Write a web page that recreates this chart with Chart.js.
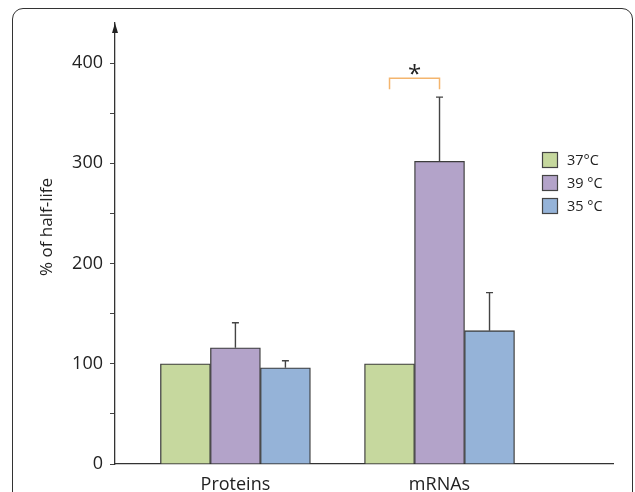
<!DOCTYPE html>
<html>
<head>
<meta charset="utf-8">
<script src="https://cdn.jsdelivr.net/npm/chart.js@4.4.1/dist/chart.umd.min.js"></script>
<style>
  html, body { margin: 0; padding: 0; background: #fff; overflow: hidden; }
  #frame {
    position: absolute; left: 12px; top: 8px; width: 621px; height: 600px;
    box-sizing: border-box; border: 1.5px solid #333; border-radius: 11px;
  }
  #wrap { position: absolute; left: 0; top: 0; width: 635px; height: 492px; }
</style>
</head>
<body>
<div id="frame"></div>
<div id="wrap"><canvas id="chart" width="635" height="492"></canvas></div>
<script>
// data
var categories = ['Proteins', 'mRNAs'];
var seriesLabels = ['37°C', '39 °C', '35 °C'];
var values37 = [100, 100];
var values39 = [116, 302];
var values35 = [96, 133];
var err37 = [0, 0];
var err39 = [25, 64];
var err35 = [7, 38];
var yTicks = [0, 100, 200, 300, 400];
var colors = ['#c6d89e', '#b3a3c9', '#95b3d8'];

var FONT = "'Open Sans', 'DejaVu Sans', sans-serif";
var INK = '#333';

function pts(vals) {
  return vals.map(function (v, i) { return { x: i + 1, y: v }; });
}

var errors = [err37, err39, err35];

// error bars, upper half only
var errorBars = {
  id: 'errorBars',
  afterDatasetsDraw: function (chart) {
    var ctx = chart.ctx;
    var ys = chart.scales.y;
    ctx.save();
    ctx.strokeStyle = '#444';
    ctx.lineWidth = 1.4;
    chart.data.datasets.forEach(function (ds, di) {
      var meta = chart.getDatasetMeta(di);
      meta.data.forEach(function (bar, i) {
        var e = errors[di][i];
        if (!e) return;
        var top = ys.getPixelForValue(ds.data[i].y + e);
        ctx.beginPath();
        ctx.moveTo(bar.x, bar.y);
        ctx.lineTo(bar.x, top);
        ctx.moveTo(bar.x - 3.5, top);
        ctx.lineTo(bar.x + 3.5, top);
        ctx.stroke();
      });
    });
    ctx.restore();
  }
};

// axis arrow, y title, legend, significance bracket
var extras = {
  id: 'extras',
  afterDraw: function (chart) {
    var ctx = chart.ctx;
    var a = chart.chartArea;
    var ys = chart.scales.y;
    ctx.save();

    ctx.fillStyle = '#222';
    ctx.beginPath();
    ctx.moveTo(a.left, a.top);
    ctx.lineTo(a.left - 3, a.top + 10);
    ctx.lineTo(a.left + 3, a.top + 10);
    ctx.closePath();
    ctx.fill();

    ctx.save();
    ctx.translate(47, 227);
    ctx.rotate(-Math.PI / 2);
    ctx.font = '17px ' + FONT;
    ctx.fillStyle = '#222';
    ctx.textAlign = 'center';
    ctx.textBaseline = 'middle';
    ctx.fillText('% of half-life', 0, 0);
    ctx.restore();

    ctx.font = '14.5px ' + FONT;
    ctx.textAlign = 'left';
    ctx.textBaseline = 'middle';
    chart.data.datasets.forEach(function (ds, i) {
      var cy = 160 + i * 23;
      ctx.fillStyle = ds.backgroundColor;
      ctx.fillRect(542.5, cy - 7.5, 15, 15);
      ctx.strokeStyle = '#444';
      ctx.lineWidth = 1.2;
      ctx.strokeRect(542.5, cy - 7.5, 15, 15);
      ctx.fillStyle = '#222';
      ctx.fillText(ds.label, 567, cy + 1);
    });

    var x1 = chart.getDatasetMeta(0).data[1].x;
    var x2 = chart.getDatasetMeta(1).data[1].x;
    var yTop = ys.getPixelForValue(385);
    var yLeg = ys.getPixelForValue(374);
    ctx.strokeStyle = '#f4b56e';
    ctx.lineWidth = 1.5;
    ctx.beginPath();
    ctx.moveTo(x1, yLeg);
    ctx.lineTo(x1, yTop);
    ctx.lineTo(x2, yTop);
    ctx.lineTo(x2, yLeg);
    ctx.stroke();
    ctx.fillStyle = '#222';
    ctx.font = '24px ' + FONT;
    ctx.textAlign = 'center';
    ctx.textBaseline = 'middle';
    ctx.fillText('*', (x1 + x2) / 2, yTop - 3);

    ctx.restore();
  }
};

var datasetValues = [values37, values39, values35];

new Chart(document.getElementById('chart'), {
  type: 'bar',
  data: {
    datasets: datasetValues.map(function (vals, i) {
      return {
        label: seriesLabels[i],
        data: pts(vals),
        backgroundColor: colors[i],
        borderColor: '#3d3d3d',
        borderWidth: 1.3,
        barThickness: 50
      };
    })
  },
  options: {
    responsive: false,
    animation: false,
    layout: { padding: { top: 23, right: 22, left: 0, bottom: 0 } },
    plugins: { legend: { display: false }, tooltip: { enabled: false } },
    scales: {
      x: {
        type: 'linear',
        offset: false,
        min: 0.41,
        max: 2.85,
        grid: { display: false, offset: false },
        border: { display: true, color: INK, width: 1.3 },
        afterBuildTicks: function (s) {
          s.ticks = categories.map(function (c, i) { return { value: i + 1 }; });
        },
        afterFit: function (s) { s.height = 28; },
        ticks: {
          autoSkip: false,
          maxRotation: 0,
          padding: 2,
          color: '#222',
          font: { family: FONT, size: 18 },
          callback: function (v) { return categories[v - 1] || ''; }
        }
      },
      y: {
        min: 0,
        max: 440,
        grid: { drawOnChartArea: false, drawTicks: true, tickLength: 5, color: '#444', lineWidth: 1 },
        border: { display: true, color: INK, width: 1.3 },
        afterBuildTicks: function (s) {
          var t = [];
          for (var v = 0; v <= 400; v += 50) t.push({ value: v });
          s.ticks = t;
        },
        afterFit: function (s) { s.width = 115; },
        ticks: {
          padding: 7,
          color: '#222',
          font: { family: FONT, size: 18 },
          callback: function (v) { return yTicks.indexOf(v) >= 0 ? String(v) : ''; }
        }
      }
    }
  },
  plugins: [errorBars, extras]
});
</script>
</body>
</html>
